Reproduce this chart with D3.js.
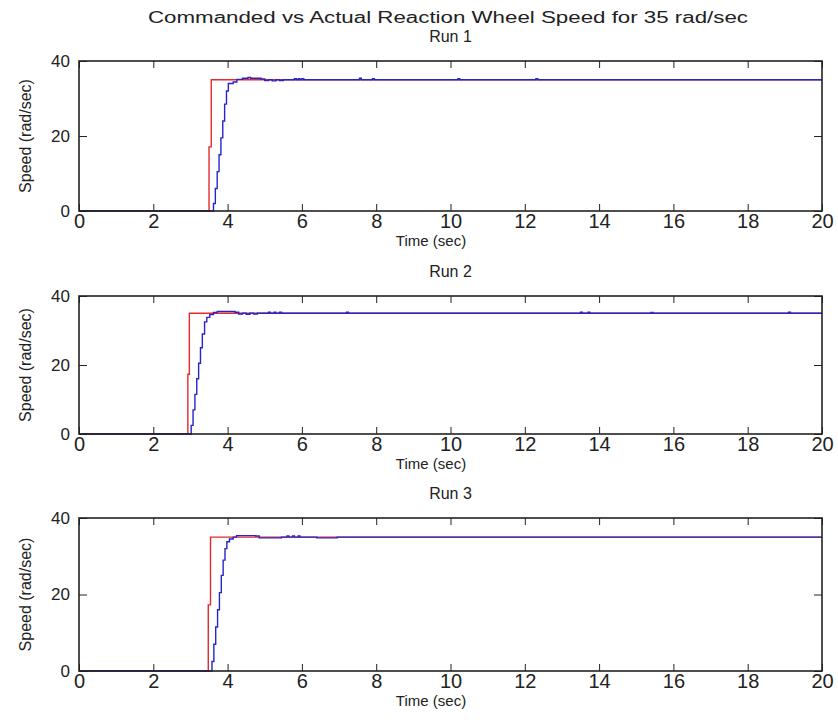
<!DOCTYPE html>
<html>
<head>
<meta charset="utf-8">
<script src="https://cdn.jsdelivr.net/npm/d3@7"></script>
<style>
  body { margin: 0; background: #fff; }
  svg { display: block; font-family: "Liberation Sans", Arial, sans-serif; }
</style>
</head>
<body>
<div id="chart"></div>
<script>
// chart text
var mainTitle = "Commanded vs Actual Reaction Wheel Speed for 35 rad/sec";
var runNames = ["Run 1", "Run 2", "Run 3"];
var xTicks = [0, 2, 4, 6, 8, 10, 12, 14, 16, 18, 20];
var yTicks = [0, 20, 40];

// commanded speed, [time, rad/sec] (step signal)
var cmdRun1 = [[0, 0], [3.50, 17.1], [3.56, 35], [20, 35]];
var cmdRun2 = [[0, 0], [2.93, 17.3], [2.97, 35], [20, 35]];
var cmdRun3 = [[0, 0], [3.48, 17.3], [3.54, 35], [20, 35]];

// measured wheel speed, [time, rad/sec]
var actRun1 = [[0, 0], [3.61, 0], [3.62, 2], [3.67, 6], [3.72, 10.5], [3.77, 15], [3.82, 19.5],
    [3.87, 24], [3.92, 28.5], [3.97, 32], [4.02, 34], [4.15, 34.4], [4.25, 35.1], [4.40, 35.4],
    [4.55, 35.6], [4.62, 35.4], [4.90, 35.2], [5.00, 34.8], [5.10, 35], [5.20, 34.7], [5.30, 35],
    [5.40, 34.8], [5.50, 35], [5.80, 35.3], [5.85, 35], [5.90, 35.3], [5.95, 35], [6.00, 35.3],
    [6.05, 35], [7.55, 35.4], [7.60, 35], [7.90, 35.3], [7.95, 35], [10.2, 35.3], [10.25, 35],
    [12.3, 35.3], [12.35, 35], [20, 35]];
var actRun2 = [[0, 0], [3.01, 0], [3.02, 2.5], [3.07, 7], [3.12, 11.5], [3.17, 16], [3.22, 20.5],
    [3.27, 25], [3.32, 29], [3.38, 32.5], [3.44, 33.8], [3.52, 34.6], [3.62, 35.2], [3.72, 35.5],
    [4.20, 35.3], [4.30, 34.8], [4.40, 35], [4.50, 34.7], [4.60, 35], [4.70, 34.8], [4.80, 35],
    [5.10, 35.3], [5.15, 35], [5.25, 35.3], [5.30, 35], [5.40, 35.3], [5.45, 35], [7.20, 35.3],
    [7.25, 35], [13.5, 35.3], [13.55, 35], [13.7, 35.3], [13.75, 35], [15.4, 35.2], [15.45, 35],
    [19.1, 35.3], [19.15, 35], [20, 35]];
var actRun3 = [[0, 0], [3.57, 0], [3.58, 2.5], [3.63, 7], [3.68, 11.5], [3.73, 16], [3.78, 20.5],
    [3.83, 25], [3.88, 29], [3.93, 32], [3.98, 33.8], [4.05, 34.5], [4.15, 35], [4.24, 35.4],
    [4.75, 35.3], [4.85, 34.8], [5.40, 34.8], [5.45, 35], [5.60, 35.3], [5.65, 35], [5.75, 35.3],
    [5.80, 35], [5.90, 35.3], [5.95, 35], [6.40, 34.8], [6.90, 34.8], [6.95, 35], [20, 35]];

var cmdRuns = [cmdRun1, cmdRun2, cmdRun3];
var actRuns = [actRun1, actRun2, actRun3];

// layout of the three axes boxes (pixels)
var left = 79, right = 822;
var panels = [
    { top: 61, bottom: 211 },
    { top: 296, bottom: 434 },
    { top: 518, bottom: 671 }
];

var svg = d3.select("#chart")
    .append("svg")
    .attr("width", 838)
    .attr("height", 726);

svg.append("text")
    .attr("x", 448)
    .attr("y", 23)
    .attr("text-anchor", "middle")
    .attr("textLength", 600)
    .attr("lengthAdjust", "spacingAndGlyphs")
    .attr("fill", "#222")
    .style("font-size", "16px")
    .text(mainTitle);

var x = d3.scaleLinear().domain([0, 20]).range([left, right]);

panels.forEach(function(p, i) {
    var y = d3.scaleLinear().domain([0, 40]).range([p.bottom, p.top]);
    var g = svg.append("g");

    var line = d3.line()
        .x(d => x(d[0]))
        .y(d => y(d[1]))
        .curve(d3.curveStepAfter);

    g.append("path")
        .datum(cmdRuns[i])
        .attr("d", line)
        .attr("fill", "none")
        .attr("stroke", "#e52a2a")
        .attr("stroke-width", 1.4);

    g.append("path")
        .datum(actRuns[i])
        .attr("d", line)
        .attr("fill", "none")
        .attr("stroke", "#2626c8")
        .attr("stroke-width", 1.4);

    // axes drawn on top, ticks pointing inward like matlab
    var bottomAxis = g.append("g")
        .attr("transform", "translate(0," + p.bottom + ")")
        .call(d3.axisBottom(x).tickValues(xTicks).tickSize(-7).tickSizeOuter(0).tickPadding(3));
    bottomAxis.selectAll("text").style("font-size", "20px");

    g.append("g")
        .attr("transform", "translate(0," + p.top + ")")
        .call(d3.axisTop(x).tickValues(xTicks).tickSize(-7).tickSizeOuter(0).tickFormat(""));

    var leftAxis = g.append("g")
        .attr("transform", "translate(" + left + ",0)")
        .call(d3.axisLeft(y).tickValues(yTicks).tickSize(-8).tickSizeOuter(0).tickPadding(9));
    leftAxis.selectAll("text").style("font-size", "17px");

    g.append("g")
        .attr("transform", "translate(" + right + ",0)")
        .call(d3.axisRight(y).tickValues(yTicks).tickSize(-8).tickSizeOuter(0).tickFormat(""));

    g.selectAll(".domain").remove();
    g.selectAll(".tick line").attr("stroke", "#222");
    g.selectAll(".tick text").attr("fill", "#222");

    g.append("rect")
        .attr("x", left)
        .attr("y", p.top)
        .attr("width", right - left)
        .attr("height", p.bottom - p.top)
        .attr("fill", "none")
        .attr("stroke", "#222")
        .attr("stroke-width", 1.6);

    g.append("text")
        .attr("x", (left + right) / 2)
        .attr("y", p.top - 19)
        .attr("text-anchor", "middle")
        .attr("fill", "#222")
        .style("font-size", "16px")
        .text(runNames[i]);

    g.append("text")
        .attr("x", 431)
        .attr("y", p.bottom + 35)
        .attr("text-anchor", "middle")
        .attr("fill", "#222")
        .style("font-size", "15px")
        .text("Time (sec)");

    g.append("text")
        .attr("transform", "rotate(-90)")
        .attr("x", -(p.top + p.bottom) / 2)
        .attr("y", 31)
        .attr("text-anchor", "middle")
        .attr("fill", "#222")
        .style("font-size", "16px")
        .text("Speed (rad/sec)");
});
</script>
</body>
</html>
